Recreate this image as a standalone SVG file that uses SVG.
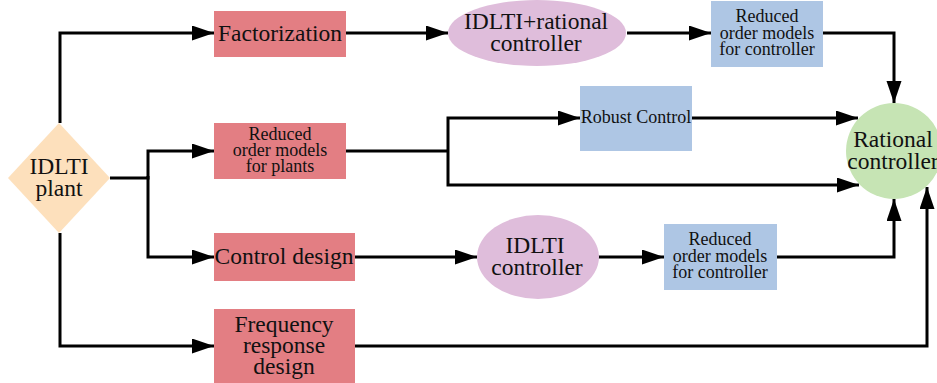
<svg xmlns="http://www.w3.org/2000/svg" width="937" height="383" viewBox="0 0 937 383">
<defs>
<marker id="ah" markerUnits="userSpaceOnUse" markerWidth="23" markerHeight="16" refX="22" refY="7.5" orient="auto">
<path d="M0,0 L22,7.5 L0,15 z" fill="#000"/>
</marker>
<style>
text{fill:#111;text-anchor:middle;dominant-baseline:central}
.big{font-size:23.5px}
.sm{font-size:18px}
.red{fill:#e37e83}
.blue{fill:#aec6e4}
.pur{fill:#dfbddb}
.e{fill:none;stroke:#000;stroke-width:3}
.a{marker-end:url(#ah)}
</style>
</defs>
<g id="connectors">
<path class="e a" d="M60,123 V33 H214"/>
<path class="e a" d="M346,33 H448"/>
<path class="e a" d="M627,33 H711"/>
<path class="e a" d="M823,33 H894 V103"/>
<path class="e a" d="M110,178 H148 V151 H214"/>
<path class="e a" d="M148,176 V257 H214"/>
<path class="e" d="M346,151 H448"/>
<path class="e a" d="M448,151 V118 H580"/>
<path class="e a" d="M448,151 V185 H859"/>
<path class="e a" d="M692,118 H858"/>
<path class="e a" d="M355,257 H477"/>
<path class="e a" d="M598,257 H664"/>
<path class="e a" d="M777,257 H894 V199"/>
<path class="e a" d="M60,233 V346 H214"/>
<path class="e a" d="M355,346 H927 V187"/>
</g>
<g font-family="Liberation Serif, Tinos, Times New Roman, DejaVu Serif, serif">
<g id="plant">
<polygon points="59,123 110,178 59,233 8,178" fill="#fde0bc"/>
<text class="big" x="59" y="166">IDLTI</text>
<text class="big" x="59" y="188">plant</text>
</g>
<g id="factorization">
<rect class="red" x="214" y="11" width="132" height="46"/>
<text class="big" x="280" y="33">Factorization</text>
</g>
<g id="idlti-rational">
<ellipse class="pur" cx="537" cy="33" rx="89" ry="33"/>
<text class="big" x="536" y="21">IDLTI+rational</text>
<text class="big" x="536" y="43">controller</text>
</g>
<g id="rom-controller-top">
<rect class="blue" x="711" y="1" width="112" height="66"/>
<text class="sm" x="767" y="16">Reduced</text>
<text class="sm" x="767" y="33">order models</text>
<text class="sm" x="767" y="49">for controller</text>
</g>
<g id="rom-plants">
<rect class="red" x="214" y="123" width="132" height="56"/>
<text class="sm" x="280" y="134">Reduced</text>
<text class="sm" x="280" y="150">order models</text>
<text class="sm" x="280" y="166">for plants</text>
</g>
<g id="robust">
<rect class="blue" x="580" y="86" width="112" height="65"/>
<text class="sm" x="636" y="117">Robust Control</text>
</g>
<g id="rational">
<circle cx="894" cy="151" r="48" fill="#c6e4b4"/>
<text class="big" x="893" y="139">Rational</text>
<text class="big" x="893" y="161">controller</text>
</g>
<g id="control-design">
<rect class="red" x="214" y="233" width="141" height="48"/>
<text class="big" x="284" y="256">Control design</text>
</g>
<g id="idlti-controller">
<ellipse class="pur" cx="538" cy="257" rx="61" ry="42"/>
<text class="big" x="535" y="245">IDLTI</text>
<text class="big" x="537" y="267">controller</text>
</g>
<g id="rom-controller-bottom">
<rect class="blue" x="664" y="224" width="113" height="66"/>
<text class="sm" x="720" y="239">Reduced</text>
<text class="sm" x="720" y="256">order models</text>
<text class="sm" x="720" y="272">for controller</text>
</g>
<g id="frequency">
<rect class="red" x="214" y="309" width="141" height="74"/>
<text class="big" x="284" y="324">Frequency</text>
<text class="big" x="284" y="345">response</text>
<text class="big" x="284" y="366">design</text>
</g>
</g>
</svg>
